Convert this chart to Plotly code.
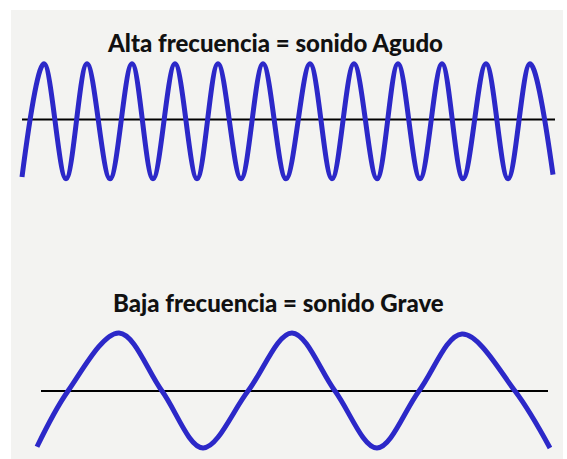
import plotly.graph_objects as go

W, H = 567, 459

# ---- data ----
# High frequency wave (time units, amplitude units)
high_t = [22, 44, 66, 87, 110, 132, 153, 175, 197, 218, 241, 263, 286,
          310, 332, 354, 377, 398, 420, 442, 463, 486, 508, 530, 553]
high_amp = [-1.00, 0.97, -1.03, 0.97, -1.03, 0.97, -1.03, 0.97, -1.03, 0.97,
            -1.03, 0.97, -1.03, 0.97, -1.03, 0.97, -1.03, 0.97, -1.03, 0.97,
            -1.03, 0.97, -1.03, 0.97, -0.96]
high_axis_t = [22, 555]

# Low frequency wave
low_t = [37, 68, 119, 162, 203, 248, 292, 335, 377, 419, 462, 515, 550]
low_amp = [-0.97, 0.0, 1.01, 0.0, -0.99, 0.0, 1.01, 0.0, -0.99, 0.0, 0.99, 0.0, -0.99]
low_axis_t = [41, 548]

titles = ["Alta frecuencia = sonido Agudo", "Baja frecuencia = sonido Grave"]

BLUE = "#2c28c8"
PX_PER_UNIT = 57.5

fig = go.Figure()

fig.add_trace(go.Scatter(x=high_axis_t, y=[0, 0], mode="lines",
                         line=dict(color="black", width=2), yaxis="y",
                         hoverinfo="skip"))
fig.add_trace(go.Scatter(x=high_t, y=high_amp, mode="lines",
                         line=dict(color=BLUE, width=5, shape="spline", smoothing=1.0),
                         yaxis="y"))
fig.add_trace(go.Scatter(x=low_axis_t, y=[0, 0], mode="lines",
                         line=dict(color="black", width=2), yaxis="y2",
                         hoverinfo="skip"))
fig.add_trace(go.Scatter(x=low_t, y=low_amp, mode="lines",
                         line=dict(color=BLUE, width=5, shape="spline", smoothing=1.0),
                         yaxis="y2"))

# axis ranges so that the baselines sit where they do in the picture
top_base, bot_base = 119.5, 391.0
y1_range = [-(H - top_base) / PX_PER_UNIT, top_base / PX_PER_UNIT]
y2_range = [-(H - bot_base) / PX_PER_UNIT, bot_base / PX_PER_UNIT]

hidden = dict(visible=False, showgrid=False, zeroline=False, fixedrange=True)
title_font = dict(family="Lato, DejaVu Sans, sans-serif", size=24, weight=900, color="#111111")

fig.update_layout(
    width=W, height=H,
    margin=dict(l=0, r=0, t=0, b=0),
    paper_bgcolor="white",
    plot_bgcolor="rgba(0,0,0,0)",
    showlegend=False,
    xaxis=dict(range=[0, W], domain=[0, 1], **hidden),
    yaxis=dict(range=y1_range, domain=[0, 1], **hidden),
    yaxis2=dict(range=y2_range, domain=[0, 1], overlaying="y", **hidden),
    shapes=[dict(type="rect", xref="paper", yref="paper",
                 x0=11 / W, x1=563 / W, y0=0, y1=1 - 10 / H,
                 fillcolor="#f3f3f1", line=dict(width=0), layer="below")],
    annotations=[
        dict(text=titles[0], xref="paper", yref="paper",
             x=275 / W, y=1 - 42 / H, showarrow=False, xanchor="center", yanchor="middle",
             font=title_font),
        dict(text=titles[1], xref="paper", yref="paper",
             x=278 / W, y=1 - 302 / H, showarrow=False, xanchor="center", yanchor="middle",
             font=title_font),
    ],
)

fig.write_html("out.html", config={"displayModeBar": False})

# remove the default page margin so the figure sits at the window origin
with open("out.html", "r", encoding="utf-8") as f:
    html = f.read()
html = html.replace("<head>", "<head><style>html,body{margin:0;padding:0;overflow:hidden;}</style>", 1)
with open("out.html", "w", encoding="utf-8") as f:
    f.write(html)
